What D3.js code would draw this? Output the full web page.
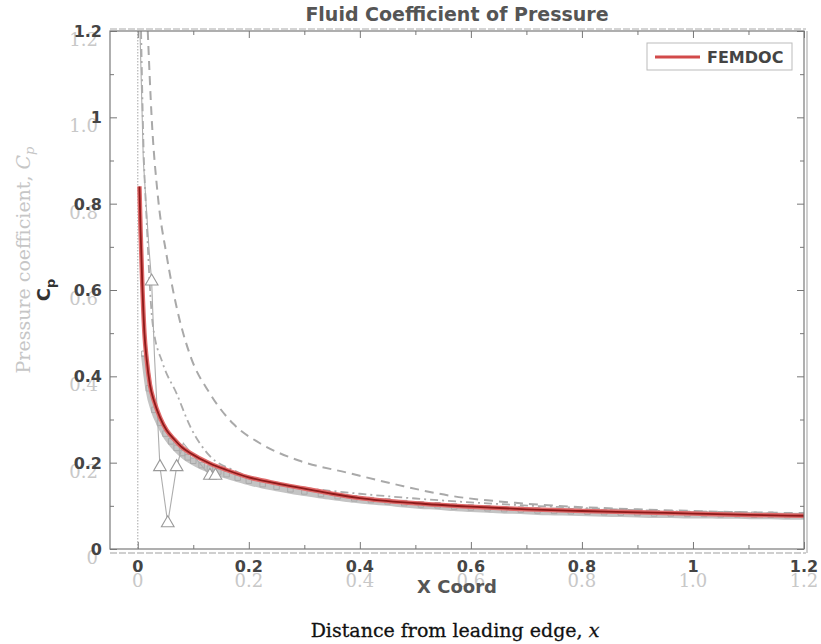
<!DOCTYPE html>
<html>
<head>
<meta charset="utf-8">
<script src="https://cdn.jsdelivr.net/npm/d3@7"></script>
<style>
  body { margin: 0; background: #fff; }
</style>
</head>
<body>
<svg id="chart" width="821" height="644"></svg>
<script>
// --- values ---
// FEMDOC (red) curve
const femX  = [0.003, 0.005, 0.008, 0.012, 0.016, 0.022, 0.03, 0.04, 0.052, 0.065, 0.08, 0.095, 0.13, 0.16, 0.2, 0.25, 0.3, 0.35, 0.4, 0.5, 0.6, 0.7, 0.8, 0.9, 1.0, 1.1, 1.2];
const femCp = [0.84, 0.74, 0.62, 0.5, 0.44, 0.38, 0.34, 0.305, 0.275, 0.255, 0.235, 0.222, 0.198, 0.183, 0.166, 0.152, 0.14, 0.128, 0.118, 0.106, 0.098, 0.092, 0.088, 0.085, 0.082, 0.079, 0.077];

// background reference: thick grey data band with square markers
const bandX  = [0.012, 0.02, 0.03, 0.04, 0.05, 0.06, 0.07, 0.08, 0.09, 0.1, 0.115, 0.13, 0.145, 0.16, 0.18, 0.2, 0.225, 0.25, 0.275, 0.3, 0.33, 0.36, 0.39, 0.42, 0.45, 0.48, 0.51, 0.54, 0.57, 0.6, 0.63, 0.66, 0.69, 0.72, 0.75, 0.78, 0.81, 0.84, 0.87, 0.9, 0.93, 0.96, 0.99, 1.02, 1.05, 1.08, 1.11, 1.14, 1.17, 1.2];
const bandCp = [0.45, 0.37, 0.32, 0.29, 0.265, 0.247, 0.232, 0.22, 0.21, 0.202, 0.192, 0.184, 0.177, 0.171, 0.163, 0.156, 0.148, 0.142, 0.136, 0.131, 0.125, 0.12, 0.115, 0.111, 0.108, 0.104, 0.101, 0.099, 0.096, 0.094, 0.092, 0.09, 0.089, 0.087, 0.086, 0.085, 0.084, 0.083, 0.082, 0.081, 0.08, 0.08, 0.079, 0.079, 0.078, 0.078, 0.077, 0.077, 0.076, 0.076];

// background reference: upper dashed curve
const dashX  = [0.018, 0.025, 0.036, 0.052, 0.07, 0.094, 0.13, 0.172, 0.22, 0.29, 0.38, 0.47, 0.56, 0.68, 0.8, 0.9, 1.0, 1.1, 1.2];
const dashCp = [1.2, 1.0, 0.82, 0.68, 0.56, 0.45, 0.36, 0.29, 0.245, 0.205, 0.176, 0.148, 0.124, 0.107, 0.097, 0.092, 0.088, 0.085, 0.083];

// background reference: inner dash-dot curve
const dotX  = [0.006, 0.01, 0.016, 0.027, 0.045, 0.07, 0.094, 0.13, 0.172, 0.2, 0.25, 0.3, 0.4, 0.5, 0.6, 0.8, 1.0, 1.2];
const dotCp = [1.2, 0.95, 0.76, 0.52, 0.43, 0.36, 0.285, 0.215, 0.183, 0.168, 0.152, 0.142, 0.128, 0.117, 0.108, 0.095, 0.086, 0.08];

// background reference: thin line with triangles
const triX  = [0.004, 0.01, 0.02, 0.025, 0.03, 0.035, 0.04, 0.054, 0.07, 0.082, 0.13, 0.14];
const triCp = [1.2, 0.9, 0.7, 0.62, 0.45, 0.32, 0.19, 0.06, 0.19, 0.245, 0.17, 0.17];
const triMarked = [0.025, 0.04, 0.054, 0.07, 0.13, 0.14];

// tick labels
const xTicks   = [0, 0.2, 0.4, 0.6, 0.8, 1, 1.2];
const xLabels  = ['0', '0.2', '0.4', '0.6', '0.8', '1', '1.2'];
const xGhosts  = ['0', '0.2', '0.4', '0.6', '0.8', '1.0', '1.2'];
const yTicks   = [0, 0.2, 0.4, 0.6, 0.8, 1, 1.2];
const yLabels  = ['0', '0.2', '0.4', '0.6', '0.8', '1', '1.2'];
const yGhosts  = ['0', '0.2', '0.4', '0.6', '0.8', '1.0', '1.2'];
const minorTicks = [0.1, 0.3, 0.5, 0.7, 0.9, 1.1];

const svg = d3.select('#chart');
const plotL = 110, plotR = 804, plotT = 31, plotB = 549;

const x = d3.scaleLinear().domain([-0.05, 1.2]).range([plotL, plotR]);
const y = d3.scaleLinear().domain([0, 1.2]).range([plotB, plotT]);

const line = d3.line()
  .x((d) => x(d[0]))
  .y((d) => y(d[1]))
  .curve(d3.curveMonotoneX);

// --- ghost frame of the background figure ---
svg.append('line')
  .attr('x1', plotL).attr('x2', plotR + 2).attr('y1', plotB + 4).attr('y2', plotB + 4)
  .attr('stroke', '#cfcfcf').attr('stroke-width', 2).attr('stroke-dasharray', '7,2');
svg.append('line')
  .attr('x1', plotL).attr('x2', plotR + 2).attr('y1', plotT - 2).attr('y2', plotT - 2)
  .attr('stroke', '#d4d4d4').attr('stroke-width', 2).attr('stroke-dasharray', '7,2');
svg.append('line')
  .attr('x1', plotR + 3).attr('x2', plotR + 3).attr('y1', plotT).attr('y2', plotB + 4)
  .attr('stroke', '#d0d0d0').attr('stroke-width', 2);

// vertical dotted line at the leading edge
svg.append('line')
  .attr('x1', x(0)).attr('x2', x(0)).attr('y1', plotT).attr('y2', plotB)
  .attr('stroke', '#b5b5b5').attr('stroke-width', 1.2).attr('stroke-dasharray', '1.5,1.5');

// --- background reference curves ---
svg.append('clipPath').attr('id', 'plot')
  .append('rect').attr('x', plotL).attr('y', plotT).attr('width', plotR - plotL).attr('height', plotB - plotT);

const g = svg.append('g').attr('clip-path', 'url(#plot)');

g.append('path')
  .datum(d3.zip(bandX, bandCp))
  .attr('d', line)
  .attr('fill', 'none')
  .attr('stroke', '#c4c4c4')
  .attr('stroke-width', 7);

g.selectAll('path.sq')
  .data(d3.zip(bandX, bandCp))
  .join('path')
  .attr('class', 'sq')
  .attr('transform', (d) => `translate(${x(d[0])},${y(d[1]) - 1})`)
  .attr('d', d3.symbol(d3.symbolSquare, 30))
  .attr('fill', 'none')
  .attr('stroke', '#aaa')
  .attr('stroke-width', 1);

g.append('path')
  .datum(d3.zip(dashX, dashCp))
  .attr('d', line)
  .attr('fill', 'none')
  .attr('stroke', '#a9a9a9')
  .attr('stroke-width', 2)
  .attr('stroke-dasharray', '9,6');

g.append('path')
  .datum(d3.zip(dotX, dotCp))
  .attr('d', line)
  .attr('fill', 'none')
  .attr('stroke', '#acacac')
  .attr('stroke-width', 1.8)
  .attr('stroke-dasharray', '8,4,2,4');

g.append('path')
  .datum(d3.zip(triX, triCp))
  .attr('d', d3.line().x((d) => x(d[0])).y((d) => y(d[1])))
  .attr('fill', 'none')
  .attr('stroke', '#adadad')
  .attr('stroke-width', 1.1);

const triPts = d3.zip(triX, triCp).filter((d) => triMarked.includes(d[0]));
g.selectAll('path.tri')
  .data(triPts)
  .join('path')
  .attr('class', 'tri')
  .attr('transform', (d) => `translate(${x(d[0])},${y(d[1])})`)
  .attr('d', d3.symbol(d3.symbolTriangle, 70))
  .attr('fill', '#fff')
  .attr('stroke', '#999')
  .attr('stroke-width', 1.1);

// --- FEMDOC curve ---
g.append('path')
  .datum(d3.zip(femX, femCp))
  .attr('d', line)
  .attr('fill', 'none')
  .attr('stroke', '#e06a6a')
  .attr('stroke-width', 4.5);
g.append('path')
  .datum(d3.zip(femX, femCp))
  .attr('d', line)
  .attr('fill', 'none')
  .attr('stroke', '#8e1a1a')
  .attr('stroke-width', 1.8);

// --- frame and ticks ---
svg.append('rect')
  .attr('x', plotL).attr('y', plotT).attr('width', plotR - plotL).attr('height', plotB - plotT)
  .attr('fill', 'none').attr('stroke', '#7a7a7a').attr('stroke-width', 1.2);

function ticks(axis, values, size) {
  axis.tickValues(values).tickSize(size).tickFormat('');
  return axis;
}
const tickStyle = (sel) => {
  sel.select('.domain').remove();
  sel.selectAll('line').attr('stroke', '#777');
};
svg.append('g').attr('transform', `translate(0,${plotB})`).call(ticks(d3.axisTop(x), xTicks, 7)).call(tickStyle);
svg.append('g').attr('transform', `translate(0,${plotB})`).call(ticks(d3.axisTop(x), minorTicks, 4)).call(tickStyle);
svg.append('g').attr('transform', `translate(0,${plotT})`).call(ticks(d3.axisBottom(x), xTicks, 7)).call(tickStyle);
svg.append('g').attr('transform', `translate(0,${plotT})`).call(ticks(d3.axisBottom(x), minorTicks, 4)).call(tickStyle);
svg.append('g').attr('transform', `translate(${plotL},0)`).call(ticks(d3.axisRight(y), yTicks, 7)).call(tickStyle);
svg.append('g').attr('transform', `translate(${plotL},0)`).call(ticks(d3.axisRight(y), minorTicks, 4)).call(tickStyle);
svg.append('g').attr('transform', `translate(${plotR},0)`).call(ticks(d3.axisLeft(y), yTicks, 7)).call(tickStyle);
svg.append('g').attr('transform', `translate(${plotR},0)`).call(ticks(d3.axisLeft(y), minorTicks, 4)).call(tickStyle);

// --- ghost labels of the background figure (serif, light grey) ---
const serif = "'DejaVu Serif', 'Liberation Serif', serif";
svg.selectAll('text.gx')
  .data(xTicks)
  .join('text')
  .attr('class', 'gx')
  .attr('x', (d) => x(d)).attr('y', 587)
  .attr('text-anchor', 'middle')
  .attr('font-family', serif).attr('font-size', 18)
  .attr('fill', '#c8c8c8')
  .text((d, i) => xGhosts[i]);

svg.selectAll('text.gy')
  .data(yTicks)
  .join('text')
  .attr('class', 'gy')
  .attr('x', 98).attr('y', (d) => y(d) + 15)
  .attr('text-anchor', 'end')
  .attr('font-family', serif).attr('font-size', 18)
  .attr('fill', '#c8c8c8')
  .text((d, i) => yGhosts[i]);

const ghostY = svg.append('text')
  .attr('transform', 'translate(30,260) rotate(-90)')
  .attr('text-anchor', 'middle')
  .attr('font-family', serif).attr('font-size', 19)
  .attr('fill', '#c6c6c6');
ghostY.append('tspan').text('Pressure coefficient,  ');
ghostY.append('tspan').attr('font-style', 'italic').text('C');
ghostY.append('tspan').attr('font-style', 'italic').attr('font-size', 13).attr('dy', 4).text('p');

const xTitle = svg.append('text')
  .attr('x', 455).attr('y', 637)
  .attr('text-anchor', 'middle')
  .attr('font-family', serif).attr('font-size', 19)
  .attr('fill', '#111')
  .attr('stroke', '#111').attr('stroke-width', 0.3);
xTitle.append('tspan').text('Distance from leading edge,  ');
xTitle.append('tspan').attr('font-style', 'italic').text('x');

// --- foreground labels (bold sans) ---
const sans = "'DejaVu Sans', Verdana, sans-serif";
svg.append('text')
  .attr('x', 457).attr('y', 21)
  .attr('text-anchor', 'middle')
  .attr('font-family', sans).attr('font-weight', 'bold').attr('font-size', 19)
  .attr('fill', '#555')
  .text('Fluid Coefficient of Pressure');

svg.selectAll('text.fx')
  .data(xTicks)
  .join('text')
  .attr('class', 'fx')
  .attr('x', (d) => x(d)).attr('y', 572)
  .attr('text-anchor', 'middle')
  .attr('font-family', sans).attr('font-weight', 'bold').attr('font-size', 16)
  .attr('fill', '#444')
  .text((d, i) => xLabels[i]);

svg.selectAll('text.fy')
  .data(yTicks)
  .join('text')
  .attr('class', 'fy')
  .attr('x', 102).attr('y', (d) => y(d) + 6)
  .attr('text-anchor', 'end')
  .attr('font-family', sans).attr('font-weight', 'bold').attr('font-size', 16)
  .attr('fill', '#444')
  .text((d, i) => yLabels[i]);

svg.append('text')
  .attr('x', 457).attr('y', 593)
  .attr('text-anchor', 'middle')
  .attr('font-family', sans).attr('font-weight', 'bold').attr('font-size', 18)
  .attr('fill', '#555')
  .text('X Coord');

const cpLabel = svg.append('text')
  .attr('transform', 'translate(50,290) rotate(-90)')
  .attr('text-anchor', 'middle')
  .attr('font-family', sans).attr('font-weight', 'bold').attr('font-size', 18)
  .attr('fill', '#333');
cpLabel.append('tspan').text('C');
cpLabel.append('tspan').attr('font-size', 13).attr('dy', 5).text('p');

// --- legend ---
const legend = svg.append('g').attr('transform', 'translate(647,43)');
legend.append('rect')
  .attr('width', 145).attr('height', 27)
  .attr('fill', '#fff').attr('stroke', '#bbb').attr('stroke-width', 1);
legend.append('line')
  .attr('x1', 8).attr('x2', 53).attr('y1', 14).attr('y2', 14)
  .attr('stroke', '#d24a4a').attr('stroke-width', 3);
legend.append('text')
  .attr('x', 60).attr('y', 20)
  .attr('font-family', sans).attr('font-weight', 'bold').attr('font-size', 16)
  .attr('fill', '#444')
  .text('FEMDOC');
</script>
</body>
</html>
